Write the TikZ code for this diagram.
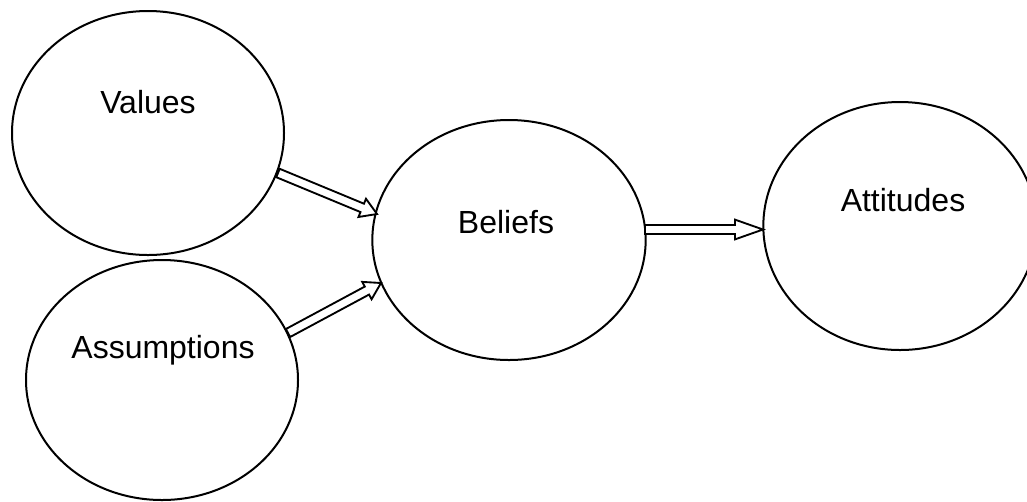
\documentclass[tikz,border=0pt]{standalone}
\usepackage{fontspec}
\setmainfont{Liberation Sans}
\usetikzlibrary{shapes.geometric,calc}
\tikzset{
  oval/.style={draw, ellipse, line width=1.5pt, inner sep=0pt},
  lbl/.style={font=\fontsize{24pt}{28pt}\selectfont, inner sep=0pt},
  blockarr/.style={draw, line width=1.4pt, fill=white, line join=miter}
}
\newcommand{\blockarrow}[3]{%
  \coordinate (ba-h) at ($(#3)!#1!(#2)$);
  \draw[blockarr] ($(#2)!3.4pt!-90:(#3)$) -- ($(ba-h)!3.4pt!90:(#2)$) -- ($(ba-h)!7.4pt!90:(#2)$) -- (#3)
    -- ($(ba-h)!7.4pt!-90:(#2)$) -- ($(ba-h)!3.4pt!-90:(#2)$) -- ($(#2)!3.4pt!90:(#3)$) -- cycle;
}
\begin{document}
\begin{tikzpicture}[x=0.75pt,y=-0.75pt]
\useasboundingbox (0,0) rectangle (1027,501);
\node[oval, minimum width=204pt, minimum height=183pt] (val) at (148,133) {};
\node[oval, minimum width=204pt, minimum height=180pt] (ass) at (162,380) {};
\node[oval, minimum width=205pt, minimum height=180pt] (bel) at (509,240) {};
\node[oval, minimum width=205pt, minimum height=186pt] (att) at (900,226) {};
\node[lbl] (tval) at (148,102) {Values};
\node[lbl] (tass) at (163,350) {Assumptions};
\node[lbl] (tbel) at (506,222) {Beliefs};
\node[lbl] (tatt) at (903,200) {Attitudes};
\coordinate (a1s) at (278,173);
\coordinate (a1e) at (377,214);
\coordinate (a2s) at (288,333);
\coordinate (a2e) at (381,283);
\coordinate (a3s) at (645,229.5);
\coordinate (a3e) at (763,229.5);
\blockarrow{12pt}{a1s}{a1e}
\blockarrow{12pt}{a2s}{a2e}
\blockarrow{21pt}{a3s}{a3e}
\end{tikzpicture}
\end{document}
